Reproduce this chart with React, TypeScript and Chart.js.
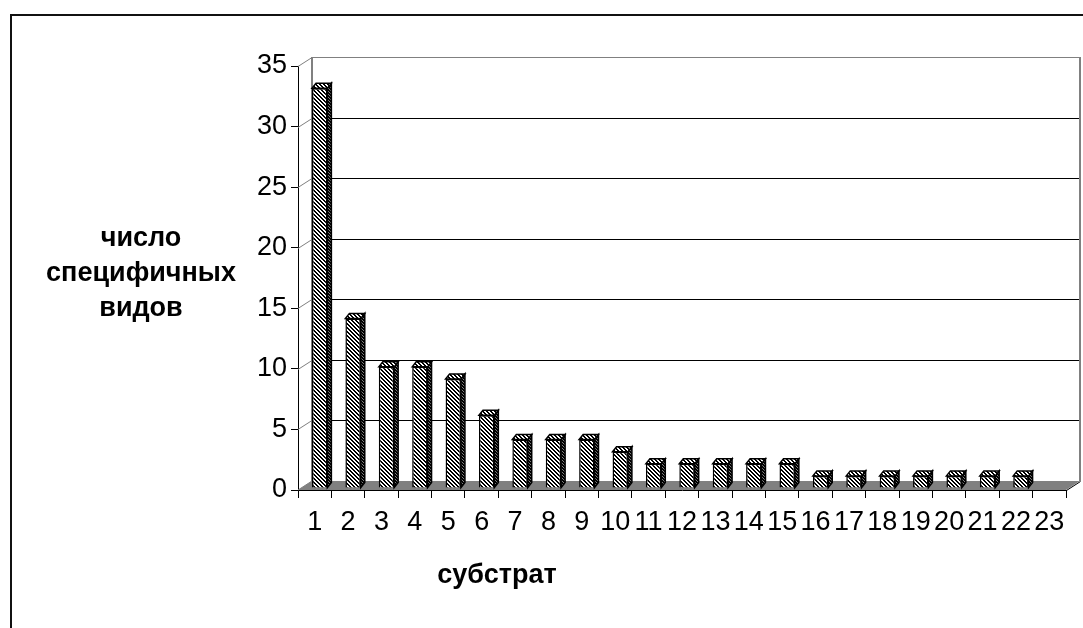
import React, { useEffect, useRef } from "react";
import { Chart, registerables } from "chart.js";

Chart.register(...registerables);

const categories = ["1","2","3","4","5","6","7","8","9","10","11","12","13","14","15","16","17","18","19","20","21","22","23"];
const values = [33, 14, 10, 10, 9, 6, 4, 4, 4, 3, 2, 2, 2, 2, 2, 1, 1, 1, 1, 1, 1, 1, 0];
const yMin = 0;
const yMax = 35;
const yStep = 5;
const yTitleLines = ["число", "специфичных", "видов"];
const xTitle = "субстрат";

const FONT = '"Liberation Sans", Arial, sans-serif';
const WALL_DX = 14;
const WALL_DY = 9;
const BAR_DX = 4;
const BAR_DY = 5;
const SHIFT_X = 5;
const SHIFT_Y = -2;

function makePattern(size: number, bg: string, fg: string, thick: number) {
  const c = document.createElement("canvas");
  c.width = size;
  c.height = size;
  const g = c.getContext("2d")!;
  g.fillStyle = bg;
  g.fillRect(0, 0, size, size);
  g.fillStyle = fg;
  for (let i = 0; i < size; i++) {
    for (let k = 0; k < thick; k++) g.fillRect((i + k) % size, i, 1, 1);
  }
  const ctx = document.createElement("canvas").getContext("2d")!;
  return ctx.createPattern(c, "repeat")!;
}

export default function App() {
  const ref = useRef<HTMLCanvasElement | null>(null);

  useEffect(() => {
    const canvas = ref.current!;
    const frontPat = makePattern(4, "#ffffff", "#000000", 2);
    const sidePat = makePattern(3, "#808080", "#000000", 2);
    const topPat = makePattern(4, "#ffffff", "#000000", 2);

    const plugin = {
      id: "threeD",
      beforeDraw(chart: any) {
        const ctx = chart.ctx;
        ctx.save();
        ctx.fillStyle = "#ffffff";
        ctx.fillRect(0, 0, chart.width, chart.height);
        ctx.strokeStyle = "#111";
        ctx.lineWidth = 2;
        ctx.beginPath();
        ctx.moveTo(11, chart.height + 5);
        ctx.lineTo(11, 15);
        ctx.lineTo(chart.width + 5, 15);
        ctx.stroke();
        ctx.restore();
      },
      beforeDatasetsDraw(chart: any) {
        const ctx = chart.ctx;
        const a = chart.chartArea;
        const y = chart.scales.y;
        ctx.save();
        // floor
        ctx.fillStyle = "#808080";
        ctx.beginPath();
        ctx.moveTo(a.left, a.bottom);
        ctx.lineTo(a.right, a.bottom);
        ctx.lineTo(a.right + WALL_DX, a.bottom - WALL_DY);
        ctx.lineTo(a.left + WALL_DX, a.bottom - WALL_DY);
        ctx.closePath();
        ctx.fill();
        ctx.strokeStyle = "#000";
        ctx.lineWidth = 1;
        ctx.beginPath();
        ctx.moveTo(a.right + 0.5, a.bottom + 0.5);
        ctx.lineTo(a.right + WALL_DX + 0.5, a.bottom - WALL_DY + 0.5);
        ctx.stroke();
        // back wall gridlines
        for (let v = yMin + yStep; v <= yMax; v += yStep) {
          const yf = Math.round(y.getPixelForValue(v)) + 0.5;
          ctx.strokeStyle = v === yMax ? "#808080" : "#000";
          ctx.beginPath();
          ctx.moveTo(a.left + WALL_DX, yf - WALL_DY);
          ctx.lineTo(a.right + WALL_DX, yf - WALL_DY);
          ctx.stroke();
          ctx.strokeStyle = "#808080";
          ctx.beginPath();
          ctx.moveTo(a.left, yf);
          ctx.lineTo(a.left + WALL_DX, yf - WALL_DY);
          ctx.stroke();
        }
        // wall edges
        ctx.strokeStyle = "#808080";
        ctx.lineWidth = 2;
        ctx.beginPath();
        ctx.moveTo(a.left + WALL_DX, a.bottom - WALL_DY);
        ctx.lineTo(a.left + WALL_DX, a.top - WALL_DY);
        ctx.moveTo(a.right + WALL_DX, a.top - WALL_DY);
        ctx.lineTo(a.right + WALL_DX, a.bottom - WALL_DY);
        ctx.stroke();
        ctx.lineWidth = 1;
        ctx.beginPath();
        ctx.moveTo(a.left, a.bottom);
        ctx.lineTo(a.left + WALL_DX, a.bottom - WALL_DY);
        ctx.stroke();
        ctx.restore();
      },
      beforeDatasetDraw(chart: any) {
        chart.ctx.save();
        chart.ctx.translate(SHIFT_X, SHIFT_Y);
      },
      afterDatasetDraw(chart: any, args: any) {
        const ctx = chart.ctx;
        const meta = chart.getDatasetMeta(args.index);
        meta.data.forEach((bar: any, i: number) => {
          if (!values[i]) return;
          const p = bar.getProps(["x", "y", "base", "width"], true);
          const l = p.x - p.width / 2;
          const r = p.x + p.width / 2;
          const t = p.y;
          const b = p.base;
          ctx.lineWidth = 1.5;
          ctx.strokeStyle = "#000";
          ctx.fillStyle = sidePat;
          ctx.beginPath();
          ctx.moveTo(r, t);
          ctx.lineTo(r + BAR_DX, t - BAR_DY);
          ctx.lineTo(r + BAR_DX, b - BAR_DY);
          ctx.lineTo(r, b);
          ctx.closePath();
          ctx.fill();
          ctx.stroke();
          ctx.fillStyle = topPat;
          ctx.beginPath();
          ctx.moveTo(l, t);
          ctx.lineTo(l + BAR_DX, t - BAR_DY);
          ctx.lineTo(r + BAR_DX, t - BAR_DY);
          ctx.lineTo(r, t);
          ctx.closePath();
          ctx.fill();
          ctx.stroke();
        });
        ctx.restore();
      },
      afterDraw(chart: any) {
        const ctx = chart.ctx;
        ctx.save();
        ctx.fillStyle = "#000";
        ctx.font = `bold 27px ${FONT}`;
        ctx.textAlign = "center";
        ctx.textBaseline = "middle";
        const ys = [239, 274, 309];
        yTitleLines.forEach((s, i) => ctx.fillText(s, 141, ys[i]));
        ctx.fillText(xTitle, 497, 576);
        ctx.restore();
      },
    };

    const chart = new Chart(canvas, {
      type: "bar",
      data: {
        labels: categories,
        datasets: [
          {
            data: values,
            backgroundColor: frontPat as any,
            borderColor: "#000",
            borderWidth: 1.5,
            categoryPercentage: 1,
            barPercentage: 0.46,
          },
        ],
      },
      options: {
        responsive: false,
        animation: false,
        devicePixelRatio: 1,
        layout: { padding: { left: 0, top: 66, right: 17, bottom: 0 } },
        plugins: { legend: { display: false }, tooltip: { enabled: false } },
        scales: {
          x: {
            afterFit: (s: any) => { s.height = 138; },
            grid: { display: true, drawOnChartArea: false, color: "#000", tickLength: 8, offset: true },
            border: { display: true, color: "#000" },
            ticks: { color: "#000", font: { family: FONT, size: 27 }, padding: 8, maxRotation: 0, autoSkip: false },
          },
          y: {
            min: yMin,
            max: yMax,
            afterFit: (s: any) => { s.width = 298; },
            grid: { display: true, drawOnChartArea: false, color: "#000", tickLength: 7 },
            border: { display: true, color: "#000" },
            ticks: { stepSize: yStep, color: "#000", font: { family: FONT, size: 27 }, padding: 4 },
          },
        },
      },
      plugins: [plugin],
    });
    return () => chart.destroy();
  }, []);

  return (
    <canvas
      ref={ref}
      width={1083}
      height={628}
      style={{ position: "absolute", left: 0, top: 0, display: "block" }}
    />
  );
}
